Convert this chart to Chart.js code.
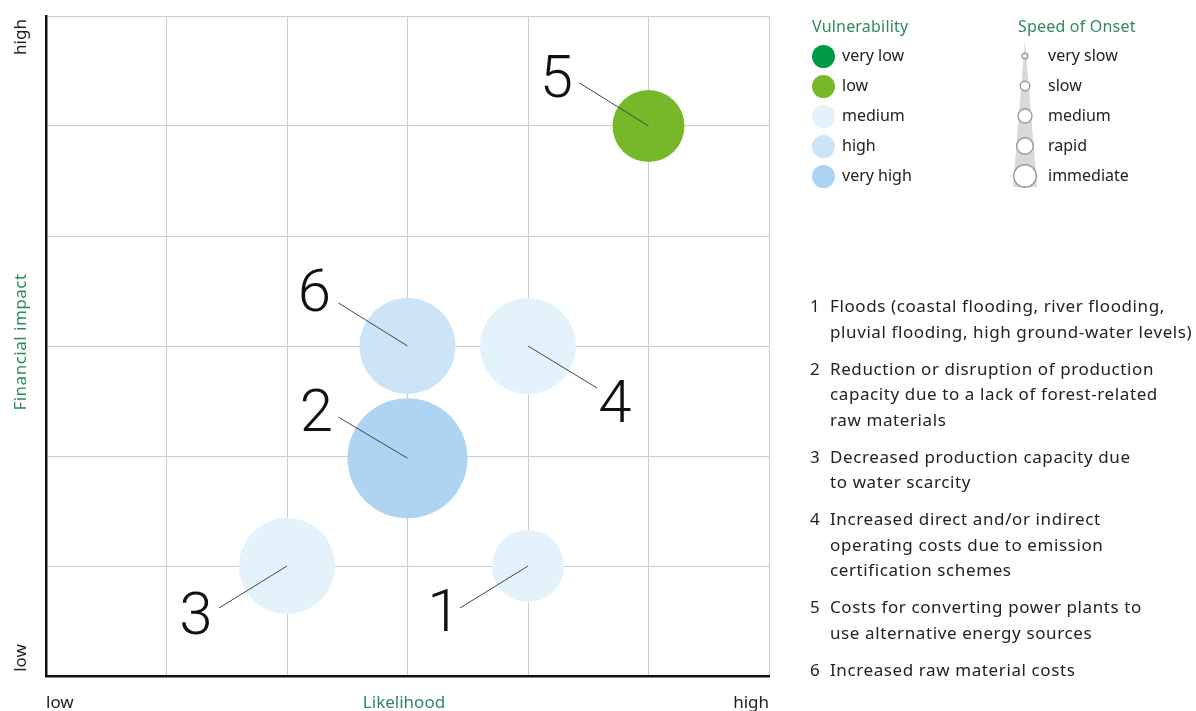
<!DOCTYPE html>
<html>
<head>
<meta charset="utf-8">
<script src="https://cdn.jsdelivr.net/npm/chart.js@4.4.1/dist/chart.umd.min.js"></script>
<style>
  body { margin: 0; background: #fff; font-family: "Noto Sans", Roboto, sans-serif; color: #222; }
  #wrap { position: relative; width: 1196px; height: 711px; overflow: hidden; }
  canvas { position: absolute; left: 0; top: 0; }
  .lbl { position: absolute; font-size: 17px; line-height: 20px; white-space: nowrap; }
  .green { color: #2e8a5c; }
  .rot { position: absolute; transform: rotate(-90deg); text-align: center; font-size: 17px; line-height: 20px; white-space: nowrap; }
  .legTitle { position: absolute; font-size: 16px; color: #2e8a5c; line-height: 20px; letter-spacing: 0.2px; }
  .legRow { position: absolute; font-size: 16px; line-height: 20px; }
  .dot { position: absolute; width: 23px; height: 23px; border-radius: 50%; }
  #risks { position: absolute; left: 810px; top: 293px; font-size: 17px; line-height: 25.5px; letter-spacing: 0.6px; }
  #risks .item { display: flex; margin-bottom: 11.5px; white-space: nowrap; }
  #risks .num { width: 20px; letter-spacing: 0; }
</style>
</head>
<body>
<div id="wrap">
  <canvas id="riskChart" width="1196" height="711"></canvas>

  <div class="rot" style="left:-30px; top:27px; width:100px;">high</div>
  <div class="rot" style="left:-30px; top:648px; width:100px;">low</div>
  <div class="rot green" style="left:-80px; top:332px; width:200px; letter-spacing:0.5px;">Financial impact</div>
  <div class="lbl" style="left:46px; top:692px;">low</div>
  <div class="lbl green" style="left:304px; top:692px; width:200px; text-align:center;">Likelihood</div>
  <div class="lbl" style="left:669px; top:692px; width:100px; text-align:right;">high</div>

  <div id="legend"></div>
  <div id="risks"></div>
</div>

<script>
// bubbles: likelihood (x), financial impact (y)
const riskIds = ['1', '2', '3', '4', '5', '6'];
const likelihood = [4, 3, 2, 4, 5, 3];
const impact = [1, 1.98, 1, 3, 5, 3];
const vulnerability = ['medium', 'very high', 'medium', 'medium', 'low', 'high'];
const onset = ['slow', 'immediate', 'rapid', 'rapid', 'slow', 'rapid'];

const vulnLevels = ['very low', 'low', 'medium', 'high', 'very high'];
const onsetLevels = ['very slow', 'slow', 'medium', 'rapid', 'immediate'];

const riskNames = [
  ['Floods (coastal flooding, river flooding,', 'pluvial flooding, high ground-water levels)'],
  ['Reduction or disruption of production', 'capacity due to a lack of forest-related', 'raw materials'],
  ['Decreased production capacity due', 'to water scarcity'],
  ['Increased direct and/or indirect', 'operating costs due to emission', 'certification schemes'],
  ['Costs for converting power plants to', 'use alternative energy sources'],
  ['Increased raw material costs']
];

// styles
const vulnColors = {
  'very low': '#009a44',
  'low': '#76b82a',
  'medium': '#e4f2fc',
  'high': '#cbe4f7',
  'very high': '#aed4f2'
};
const onsetRadius = { 'very slow': 28, 'slow': 36, 'medium': 42, 'rapid': 48, 'immediate': 60 };
const onsetLegendR = [2.8, 4.8, 7, 8.3, 11.3];
// label offsets from bubble centre: [line end dx, dy, text dx, dy]
const labelOffsets = [
  [-68, 42, -84, 44],
  [-69, -41, -91, -48],
  [-68, 42, -91, 47],
  [69, 42, 87, 55],
  [-69, -43, -92, -50],
  [-69, -43, -93, -56]
];

// legend
const legend = document.getElementById('legend');
let html = '<div class="legTitle" style="left:812px; top:16px;">Vulnerability</div>';
vulnLevels.forEach((v, i) => {
  const cy = 56 + i * 30;
  html += `<div class="dot" style="left:812px; top:${cy - 11.5}px; background:${vulnColors[v]}"></div>`;
  html += `<div class="legRow" style="left:842px; top:${cy - 11}px;">${v}</div>`;
});
html += '<div class="legTitle" style="left:1018px; top:16px;">Speed of Onset</div>';
let svg = '<svg style="position:absolute; left:1000px; top:30px;" width="60" height="170">' +
  '<polygon points="25,10 13,157 37,157" fill="#d9d9d9"/>';
onsetLevels.forEach((o, i) => {
  const cy = 26 + i * 30;
  svg += `<circle cx="25" cy="${cy}" r="${onsetLegendR[i]}" fill="#fff" stroke="#999" stroke-width="1.4"/>`;
  html += `<div class="legRow" style="left:1048px; top:${56 + i * 30 - 11}px;">${o}</div>`;
});
svg += '</svg>';
legend.innerHTML = html + svg;

// risk list
document.getElementById('risks').innerHTML = riskNames.map((lines, i) =>
  `<div class="item"><div class="num">${riskIds[i]}</div><div>${lines.join('<br>')}</div></div>`
).join('');

const numberLabels = {
  id: 'numberLabels',
  afterDatasetsDraw(chart) {
    const ctx = chart.ctx;
    const meta = chart.getDatasetMeta(0);
    ctx.save();
    meta.data.forEach((pt, i) => {
      const o = labelOffsets[i];
      ctx.strokeStyle = '#444';
      ctx.lineWidth = 1;
      ctx.beginPath();
      ctx.moveTo(pt.x, pt.y);
      ctx.lineTo(pt.x + o[0], pt.y + o[1]);
      ctx.stroke();
      ctx.fillStyle = '#111';
      ctx.font = '300 60px Roboto, "Noto Sans", sans-serif';
      ctx.textAlign = 'center';
      ctx.textBaseline = 'middle';
      ctx.fillText(riskIds[i], pt.x + o[2], pt.y + o[3] + 6);
    });
    ctx.restore();
  }
};

new Chart(document.getElementById('riskChart'), {
  type: 'bubble',
  data: {
    datasets: [{
      data: likelihood.map((x, i) => ({ x: x, y: impact[i], r: onsetRadius[onset[i]] })),
      backgroundColor: vulnerability.map(v => vulnColors[v]),
      borderWidth: 0,
      hoverBorderWidth: 0
    }]
  },
  options: {
    responsive: false,
    animation: false,
    layout: { autoPadding: false, padding: { left: 46, top: 16, right: 427, bottom: 35 } },
    plugins: { legend: { display: false }, tooltip: { enabled: false } },
    scales: {
      x: {
        min: 0, max: 6,
        ticks: { display: false, stepSize: 1 },
        grid: { color: '#cccccc', drawTicks: false, lineWidth: 1 },
        border: { color: '#111', width: 2.5 }
      },
      y: {
        min: 0, max: 6,
        ticks: { display: false, stepSize: 1 },
        grid: { color: '#cccccc', drawTicks: false, lineWidth: 1 },
        border: { color: '#111', width: 2.5 }
      }
    }
  },
  plugins: [numberLabels]
});
</script>
</body>
</html>
